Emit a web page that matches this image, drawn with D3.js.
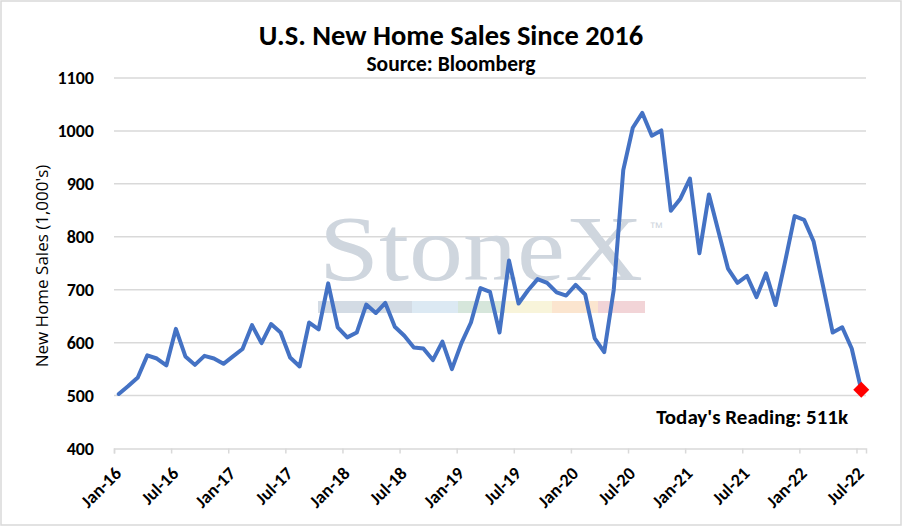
<!DOCTYPE html>
<html>
<head>
<meta charset="utf-8">
<script src="https://cdn.jsdelivr.net/npm/d3@7"></script>
<style>
  body { margin: 0; background: #fff; }
  svg { display: block; }
</style>
</head>
<body>
<svg width="902" height="527"></svg>
<script>
// monthly new home sales, Jan-16 .. Jul-22 (thousands, SAAR)
var startYear = 2016;
var sales2016 = [503, 518, 534, 576, 570, 557, 626, 574, 558, 575, 570, 560];
var sales2017 = [574, 588, 633, 599, 635, 619, 572, 555, 638, 625, 712, 629];
var sales2018 = [610, 619, 672, 656, 675, 630, 613, 591, 589, 567, 602, 550];
var sales2019 = [599, 638, 703, 696, 619, 755, 674, 699, 720, 713, 695, 689];
var sales2020 = [709, 691, 608, 582, 700, 926, 1006, 1034, 991, 1001, 849, 872];
var sales2021 = [910, 769, 880, 810, 740, 713, 726, 686, 731, 671, 753, 839];
var sales2022 = [832, 791, 706, 619, 629, 589, 511];

var xTickLabels = ["Jan-16", "Jul-16", "Jan-17", "Jul-17", "Jan-18", "Jul-18", "Jan-19",
                   "Jul-19", "Jan-20", "Jul-20", "Jan-21", "Jul-21", "Jan-22", "Jul-22"];
var yTicks = [400, 500, 600, 700, 800, 900, 1000, 1100];

var sales = [].concat(sales2016, sales2017, sales2018, sales2019, sales2020, sales2021, sales2022);
var data = sales.map(function(v, i) { return { month: i, value: v }; });

var svg = d3.select("svg");
var font = "Carlito, 'Liberation Sans Narrow', 'Liberation Sans', Arial, sans-serif";

// chart border
svg.append("rect")
    .attr("x", 1).attr("y", 1).attr("width", 900).attr("height", 524)
    .attr("fill", "#fff").attr("stroke", "#d9d9d9").attr("stroke-width", 1.5);

var x = d3.scaleLinear().domain([0, sales.length]).range([114, 866]);
var y = d3.scaleLinear().domain([400, 1100]).range([448.5, 78]);

// gridlines
svg.append("g").selectAll("line")
    .data(yTicks.slice(1))
    .enter().append("line")
    .attr("x1", x(0)).attr("x2", x(sales.length))
    .attr("y1", function(d) { return y(d); })
    .attr("y2", function(d) { return y(d); })
    .attr("stroke", "#d9d9d9").attr("stroke-width", 1.5);

// watermark
var wm = svg.append("g");
wm.append("text")
    .attr("x", 319).attr("y", 280)
    .attr("font-family", "'Liberation Serif', 'DejaVu Serif', serif")
    .attr("font-size", 94)
    .attr("textLength", 324)
    .attr("lengthAdjust", "spacingAndGlyphs")
    .attr("fill", "#cfd6de")
    .text("StoneX");
wm.append("text")
    .attr("x", 649).attr("y", 232)
    .attr("font-family", "'Liberation Sans', Arial, sans-serif")
    .attr("font-size", 14)
    .attr("fill", "#cfd6de")
    .text("\u2122");
var bandColors = ["#d3dbe4", "#dce9f3", "#d6e6db", "#f8f4da", "#fbe5cf", "#f2d4d7"];
var bandWidths = [94, 46, 47, 47, 46, 47];
var bx = 318;
bandColors.forEach(function(c, i) {
  wm.append("rect")
      .attr("x", bx).attr("y", 301).attr("width", bandWidths[i]).attr("height", 12)
      .attr("fill", c);
  bx += bandWidths[i];
});

// y axis labels
svg.append("g")
    .attr("transform", "translate(" + (x(0) - 17) + ",0)")
    .call(d3.axisLeft(y).tickValues(yTicks).tickSize(0).tickFormat(d3.format("d")))
    .call(function(g) { g.select(".domain").remove(); })
    .selectAll("text")
    .attr("font-family", font)
    .attr("font-weight", "bold")
    .attr("font-size", 18)
    .attr("fill", "#000");

// x axis
var xAxis = svg.append("g")
    .attr("transform", "translate(0," + y(400) + ")")
    .call(d3.axisBottom(x)
        .tickValues(d3.range(0, sales.length, 6))
        .tickSize(5)
        .tickFormat(function(d, i) { return xTickLabels[i]; }));
xAxis.select(".domain").attr("stroke", "#d9d9d9").attr("stroke-width", 1.5);
xAxis.selectAll(".tick line").attr("stroke", "#d9d9d9").attr("stroke-width", 1.5);
xAxis.selectAll("text")
    .attr("font-family", font)
    .attr("font-weight", "bold")
    .attr("font-size", 18)
    .attr("fill", "#000")
    .attr("text-anchor", "end")
    .attr("dy", null)
    .attr("y", 0)
    .attr("transform", "translate(8,26) rotate(-45)");

// line
var line = d3.line()
    .x(function(d) { return x(d.month + 0.5); })
    .y(function(d) { return y(d.value); });

svg.append("path")
    .datum(data)
    .attr("fill", "none")
    .attr("stroke", "#4472c4")
    .attr("stroke-width", 4)
    .attr("stroke-linejoin", "round")
    .attr("stroke-linecap", "round")
    .attr("d", line);

// latest reading marker
var last = data[data.length - 1];
svg.append("path")
    .attr("d", d3.symbol().type(d3.symbolSquare).size(128))
    .attr("transform", "translate(" + x(last.month + 0.5) + "," + y(last.value) + ") rotate(45)")
    .attr("fill", "#ff0000");

svg.append("text")
    .attr("x", 848).attr("y", 424)
    .attr("text-anchor", "end")
    .attr("font-family", font)
    .attr("font-weight", "bold")
    .attr("font-size", 21)
    .text("Today's Reading: " + last.value + "k");

// titles
svg.append("text")
    .attr("x", 451).attr("y", 45)
    .attr("text-anchor", "middle")
    .attr("font-family", font)
    .attr("font-weight", "bold")
    .attr("font-size", 28.5)
    .text("U.S. New Home Sales Since 2016");
svg.append("text")
    .attr("x", 451).attr("y", 71)
    .attr("text-anchor", "middle")
    .attr("font-family", font)
    .attr("font-weight", "bold")
    .attr("font-size", 21.5)
    .text("Source: Bloomberg");

svg.append("text")
    .attr("transform", "translate(48,266) rotate(-90)")
    .attr("text-anchor", "middle")
    .attr("font-family", "'Open Sans', 'Noto Sans', sans-serif")
    .attr("font-size", 17)
    .text("New Home Sales (1,000's)");
</script>
</body>
</html>
